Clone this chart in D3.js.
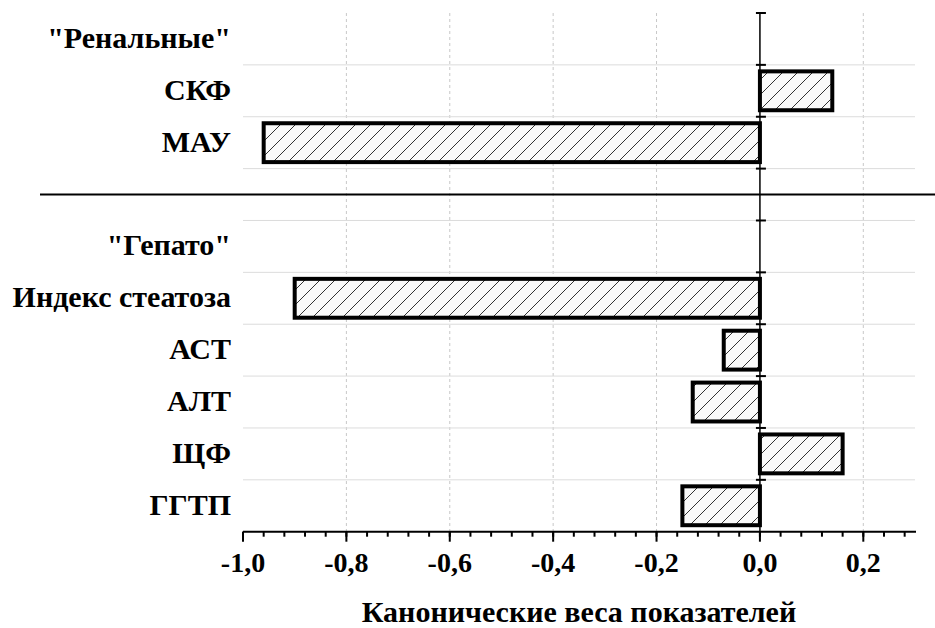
<!DOCTYPE html>
<html>
<head>
<meta charset="utf-8">
<script src="https://cdn.jsdelivr.net/npm/d3@7"></script>
<style>
  body { margin: 0; background: #fff; }
  svg text { font-family: 'Liberation Serif', Tinos, 'Times New Roman', serif !important; font-weight: 700; }
</style>
</head>
<body>
<div id="chart"></div>
<script>
const labels = ['"Ренальные"', 'СКФ', 'МАУ', '', '"Гепато"', 'Индекс стеатоза', 'АСТ', 'АЛТ', 'ЩФ', 'ГГТП']
const weights = [null, 0.14, -0.96, null, null, -0.90, -0.07, -0.13, 0.16, -0.15]
const xDomain = [-1, 0.3]
const axisTitle = 'Канонические веса показателей'

const svgSize = { width: 935, height: 628 }
const plot = { left: 243, right: 915, top: 13, bottom: 531.7 }
const font = 'Liberation Serif'

const svg = d3.select('#chart')
  .append('svg')
  .attr('width', svgSize.width)
  .attr('height', svgSize.height)

const defs = svg.append('defs')
const hatch = defs.append('pattern')
  .attr('id', 'hatch')
  .attr('patternUnits', 'userSpaceOnUse')
  .attr('width', 15)
  .attr('height', 15)
hatch.append('rect')
  .attr('width', 15)
  .attr('height', 15)
  .attr('fill', '#fafafa')
hatch.append('path')
  .attr('d', 'M0,15 L15,0 M-4,4 L4,-4 M11,19 L19,11')
  .attr('stroke', '#333')
  .attr('stroke-width', 1)

const xScale = d3.scaleLinear()
  .domain(xDomain)
  .range([plot.left, plot.right])

const yScale = d3.scaleBand()
  .domain(d3.range(labels.length))
  .range([plot.top, plot.bottom])

const bw = yScale.bandwidth()
const majorTicks = xScale.ticks(7)
const minorTicks = d3.range(0, 33).map(i => xDomain[0] + i * 0.04)
const fmt = d => (d < 0 ? '-' : '') + Math.abs(d).toFixed(1).replace('.', ',')

// vertical dashed grid
svg.append('g')
  .selectAll('line')
  .data(majorTicks.filter(d => d !== 0 && d !== xDomain[0]))
  .enter().append('line')
  .attr('x1', d => xScale(d))
  .attr('x2', d => xScale(d))
  .attr('y1', plot.top)
  .attr('y2', plot.bottom)
  .attr('stroke', '#c8c8c8')
  .attr('stroke-width', 1)
  .attr('stroke-dasharray', '3 3')

// horizontal grid on band boundaries
svg.append('g')
  .selectAll('line')
  .data(d3.range(1, labels.length))
  .enter().append('line')
  .attr('x1', plot.left)
  .attr('x2', plot.right)
  .attr('y1', d => yScale(d))
  .attr('y2', d => yScale(d))
  .attr('stroke', '#dcdcdc')
  .attr('stroke-width', 1)

// separator between groups
svg.append('line')
  .attr('x1', 40)
  .attr('x2', svgSize.width)
  .attr('y1', yScale(3) + bw / 2)
  .attr('y2', yScale(3) + bw / 2)
  .attr('stroke', '#000')
  .attr('stroke-width', 2)

// bars
const bars = labels.map((l, i) => ({ i, v: weights[i] })).filter(d => d.v !== null)
svg.append('g')
  .selectAll('rect')
  .data(bars)
  .enter().append('rect')
  .attr('x', d => xScale(Math.min(0, d.v)))
  .attr('width', d => Math.abs(xScale(d.v) - xScale(0)))
  .attr('y', d => yScale(d.i) + 6.5)
  .attr('height', bw - 13)
  .attr('fill', 'url(#hatch)')
  .attr('stroke', '#000')
  .attr('stroke-width', 4)

// zero line with its ticks
svg.append('line')
  .attr('x1', xScale(0))
  .attr('x2', xScale(0))
  .attr('y1', plot.top)
  .attr('y2', plot.bottom)
  .attr('stroke', '#000')
  .attr('stroke-width', 1.5)

svg.append('g')
  .selectAll('line')
  .data(d3.range(0, labels.length))
  .enter().append('line')
  .attr('x1', xScale(0) - 4)
  .attr('x2', xScale(0) + 6)
  .attr('y1', d => yScale(d))
  .attr('y2', d => yScale(d))
  .attr('stroke', '#000')
  .attr('stroke-width', 2)

// category labels
svg.append('g')
  .selectAll('text')
  .data(labels)
  .enter().append('text')
  .attr('x', 231)
  .attr('y', (d, i) => yScale(i) + bw / 2)
  .attr('dy', '0.3em')
  .attr('text-anchor', 'end')
  .style('font-family', font, 'important')
  .style('font-size', '30px')
  .text(d => d)

// x axis
const xAxis = svg.append('g')
xAxis.append('line')
  .attr('x1', plot.left)
  .attr('x2', plot.right + 1)
  .attr('y1', plot.bottom)
  .attr('y2', plot.bottom)
  .attr('stroke', '#000')
  .attr('stroke-width', 2)

xAxis.selectAll('.minor')
  .data(minorTicks)
  .enter().append('line')
  .attr('class', 'minor')
  .attr('x1', d => xScale(d))
  .attr('x2', d => xScale(d))
  .attr('y1', plot.bottom)
  .attr('y2', plot.bottom + 5)
  .attr('stroke', '#000')
  .attr('stroke-width', 2)

xAxis.selectAll('.major')
  .data(majorTicks)
  .enter().append('line')
  .attr('class', 'major')
  .attr('x1', d => xScale(d))
  .attr('x2', d => xScale(d))
  .attr('y1', plot.bottom)
  .attr('y2', plot.bottom + 10)
  .attr('stroke', '#000')
  .attr('stroke-width', 2)

xAxis.selectAll('text')
  .data(majorTicks)
  .enter().append('text')
  .attr('x', d => xScale(d))
  .attr('y', 572)
  .attr('text-anchor', 'middle')
  .style('font-family', font, 'important')
  .style('font-size', '28px')
  .text(fmt)

svg.append('text')
  .attr('x', (plot.left + plot.right) / 2)
  .attr('y', 622)
  .attr('text-anchor', 'middle')
  .style('font-family', font, 'important')
  .style('font-size', '30px')
  .text(axisTitle)
</script>
</body>
</html>
